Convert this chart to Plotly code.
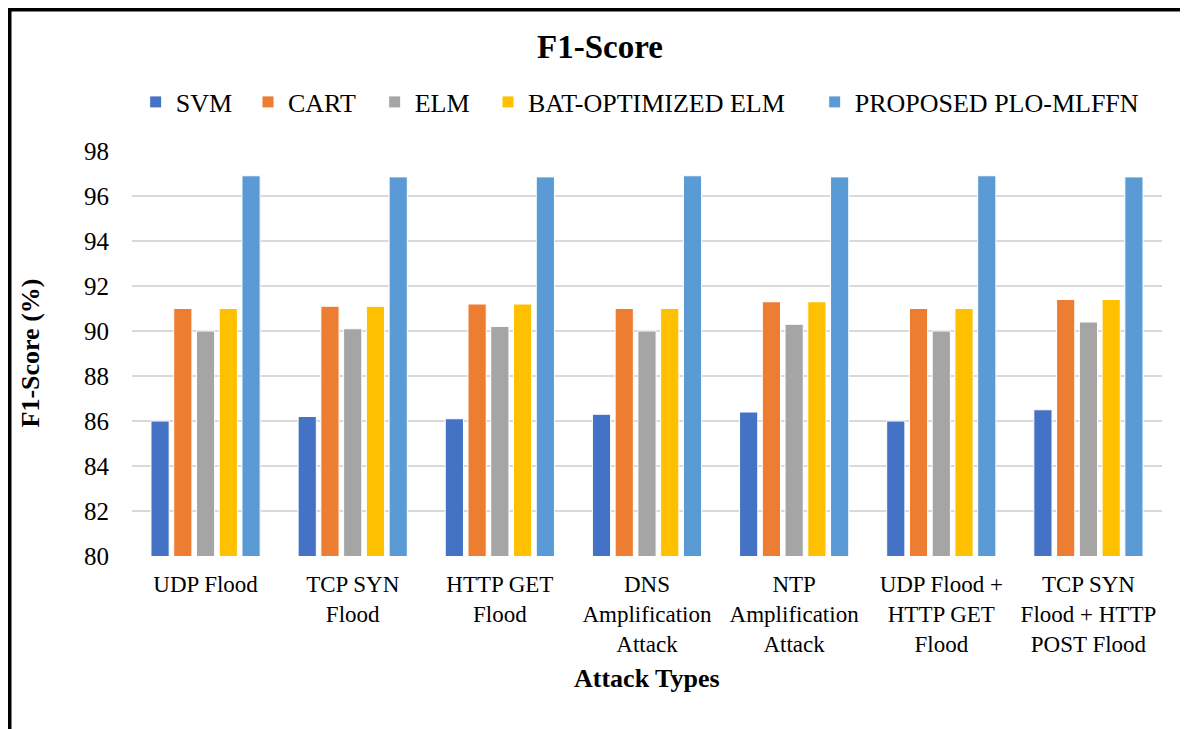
import plotly.graph_objects as go

categories = ["UDP Flood", "TCP SYN<br>Flood", "HTTP GET<br>Flood",
              "DNS<br>Amplification<br>Attack", "NTP<br>Amplification<br>Attack",
              "UDP Flood +<br>HTTP GET<br>Flood", "TCP SYN<br>Flood + HTTP<br>POST Flood"]
svm = [86.0, 86.2, 86.1, 86.3, 86.4, 86.0, 86.5]
cart = [91.0, 91.1, 91.2, 91.0, 91.3, 91.0, 91.4]
elm = [90.0, 90.1, 90.2, 90.0, 90.3, 90.0, 90.4]
bat_elm = [91.0, 91.1, 91.2, 91.0, 91.3, 91.0, 91.4]
proposed = [96.9, 96.85, 96.85, 96.9, 96.85, 96.9, 96.85]

series_names = ["SVM", "CART", "ELM", "BAT-OPTIMIZED ELM", "PROPOSED PLO-MLFFN"]
series_values = [svm, cart, elm, bat_elm, proposed]
colors = ["#4472C4", "#ED7D31", "#A5A5A5", "#FFC000", "#5B9BD5"]

FONT = "Liberation Serif"
OFF = 8  # page body margin
W, H = 1188 - OFF, 729 - OFF
L, R, T, B = 132 - OFF, 26, 151 - OFF, 173
PW = W - L - R
PH = H - T - B

def px_x(p):  # p in screen pixels
    return (p - OFF - L) / PW

def px_y(p):
    return (H - B - (p - OFF)) / PH

legend_names = ["legend", "legend2", "legend3", "legend4", "legend5"]
legend_text_px = [172.7, 285, 411.7, 525, 851.7]

fig = go.Figure()
for name, vals, col, lg in zip(series_names, series_values, colors, legend_names):
    fig.add_trace(go.Bar(x=categories, y=vals, name=name, legend=lg,
                         marker=dict(color=col, line=dict(color="white", width=1))))

layout_legends = {}
for lg, tx in zip(legend_names, legend_text_px):
    layout_legends[lg] = dict(x=px_x(tx - 37), y=px_y(102), xanchor="left", yanchor="middle",
                              orientation="h", font=dict(family=FONT, size=26, color="#000"),
                              bgcolor="rgba(0,0,0,0)", borderwidth=0)

fig.update_layout(
    width=W, height=H,
    margin=dict(l=L, r=R, t=T, b=B, autoexpand=False),
    paper_bgcolor="white", plot_bgcolor="white",
    barmode="group", bargap=0.227, bargroupgap=0.2,
    showlegend=True,
    title=dict(text="<b>F1-Score</b>", x=(600 - OFF) / W, xanchor="center",
               y=1 - (46 - OFF) / H, yanchor="middle",
               xref="container", yref="container", font=dict(family=FONT, size=33, color="#000")),
    font=dict(family=FONT, color="#000"),
    **layout_legends,
)
fig.update_yaxes(range=[80, 98], dtick=2, showgrid=True, gridcolor="#D9D9D9", gridwidth=1.5,
                 zeroline=False, showline=False, ticks="", ticklabelstandoff=22,
                 tickfont=dict(family=FONT, size=25, color="#000"))
fig.update_xaxes(showgrid=False, showline=False, ticks="", ticklabelstandoff=12,
                 tickfont=dict(family=FONT, size=23, color="#000"), tickangle=0)

fig.add_annotation(text="<b>F1-Score (%)</b>", xref="paper", yref="paper",
                   x=px_x(30), y=0.5, textangle=-90, showarrow=False,
                   font=dict(family=FONT, size=26, color="#000"), xanchor="center", yanchor="middle")
fig.add_annotation(text="<b>Attack Types</b>", xref="paper", yref="paper",
                   x=0.5, y=px_y(678), showarrow=False,
                   font=dict(family=FONT, size=26, color="#000"), xanchor="center", yanchor="middle")

# frame lines (top and left edges of the chart border)
fig.add_shape(type="line", xref="paper", yref="paper", x0=px_x(9.5), x1=px_x(1200),
              y0=px_y(9.5), y1=px_y(9.5), line=dict(color="black", width=4))
fig.add_shape(type="line", xref="paper", yref="paper", x0=px_x(9.5), x1=px_x(9.5),
              y0=px_y(7.5), y1=px_y(740), line=dict(color="black", width=4))

fig.write_html("out.html")
